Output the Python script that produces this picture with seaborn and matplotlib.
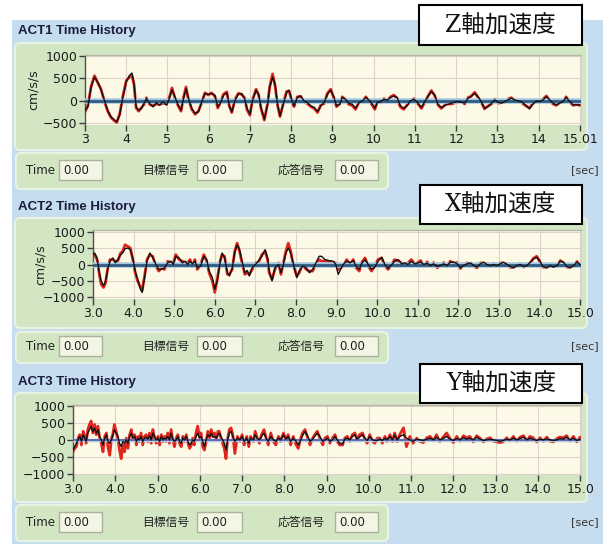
import numpy as np
import pandas as pd
import matplotlib
matplotlib.use("Agg")
import matplotlib.pyplot as plt
import seaborn as sns
from matplotlib.patches import FancyBboxPatch, Rectangle

# ---------------- data ----------------
panel_titles = ["ACT1 Time History", "ACT2 Time History", "ACT3 Time History"]
axis_names = ["Z軸加速度", "X軸加速度", "Y軸加速度"]
field_labels = ["Time", "目標信号", "応答信号"]
field_values = ["0.00", "0.00", "0.00"]
unit_label = "cm/s/s"
sec_label = "[sec]"

z_xticks = [3, 4, 5, 6, 7, 8, 9, 10, 11, 12, 13, 14, 15.01]
z_xticklabels = ["3", "4", "5", "6", "7", "8", "9", "10", "11", "12", "13", "14", "15.01"]
z_yticks = [1000, 500, 0, -500]
xy_xticks = [3.0, 4.0, 5.0, 6.0, 7.0, 8.0, 9.0, 10.0, 11.0, 12.0, 13.0, 14.0, 15.0]
xy_xticklabels = ["3.0", "4.0", "5.0", "6.0", "7.0", "8.0", "9.0", "10.0", "11.0", "12.0", "13.0", "14.0", "15.0"]
xy_yticks = [1000, 500, 0, -500, -1000]

zero_time = [3.0, 15.01]
zero_level = [0.0, 0.0]

# ACT1 (Z)
z_time = [3.00, 3.07, 3.15, 3.23, 3.31, 3.39, 3.47, 3.55, 3.63, 3.72, 3.77, 3.84, 3.92, 4.00, 4.08, 4.14, 4.19, 4.24, 4.30, 4.37,
          4.43, 4.49, 4.57, 4.65, 4.73, 4.81, 4.89, 4.98, 5.06, 5.11, 5.18, 5.26, 5.33, 5.38, 5.45, 5.50, 5.59, 5.67, 5.75, 5.83,
          5.91, 5.99, 6.07, 6.15, 6.22, 6.28, 6.36, 6.44, 6.50, 6.56, 6.64, 6.72, 6.80, 6.87, 6.93,
          7.00, 7.06, 7.15, 7.21, 7.27, 7.35, 7.43, 7.48, 7.55, 7.61, 7.67, 7.73, 7.81, 7.89, 7.95, 8.02, 8.07, 8.15, 8.23, 8.31,
          8.39, 8.48, 8.56, 8.64, 8.72, 8.80, 8.88, 8.96, 9.04, 9.10, 9.18, 9.24, 9.32, 9.40, 9.48, 9.56, 9.65, 9.73, 9.81, 9.89,
          9.97, 10.03, 10.09, 10.17, 10.25, 10.33, 10.41, 10.49, 10.57, 10.65, 10.73, 10.81, 10.89, 10.98,
          11.08, 11.16, 11.24, 11.32, 11.40, 11.48, 11.56, 11.64, 11.76, 11.89, 12.01, 12.13, 12.21, 12.29, 12.37, 12.45, 12.53,
          12.61, 12.69, 12.78, 12.86, 12.94, 13.02, 13.10, 13.18, 13.26, 13.34, 13.42, 13.50, 13.58, 13.66, 13.78, 13.86, 13.95,
          14.03, 14.11, 14.19, 14.27, 14.35, 14.43, 14.51, 14.59, 14.67, 14.76, 14.84, 14.92, 15.00]
z_response = [-207, -133, 310, 530, 420, 237, 15, -207, -355, -430, -466, -318, 90, 420, 570, 620, 385, -133, -207, -170,
              -60, 52, -60, -133, -44, -96, -22, -96, 90, 250, 90, -96, -207, 15, 272, 90, -170, -280, -245, -22,
              163, 148, 163, 126, -133, -60, 126, 178, -96, -245, 15, 148, 163, 52, -170,
              -296, 0, 237, 148, -148, -407, -74, 296, 533, 370, -74, -333, -74, 185, 237, 0, -111, 74, 111, 0,
              -37, -111, -148, -237, -111, -37, 148, 237, 74, -111, -74, 74, 37, -59, -74, -163, -37, 0, 74, 15,
              -74, -163, -37, -15, 37, 15, 74, 111, 74, -111, -163, -111, 0, 37,
              -52, -148, -15, 96, 207, 133, -74, -148, -89, -52, -15, -30, -52, 59, 96, 170, 96,
              -15, -163, -126, -52, 22, -30, -52, -15, 22, 59, 22, 0, -15, -74, -178, -74, 0,
              -15, 22, 96, 22, -52, -89, -52, -15, 74, -15, -89, -89, -89]
z_target = [-250, -100, 330, 560, 400, 260, -10, -230, -370, -450, -480, -300, 110, 450, 530, 560, 360, -160, -230, -150,
            -80, 70, -80, -110, -70, -80, -50, -70, 120, 290, 70, -110, -230, 40, 310, 60, -190, -300, -230, -40,
            180, 130, 180, 100, -160, -40, 150, 200, -120, -260, 40, 170, 140, 70, -200,
            -320, 20, 260, 130, -170, -430, -50, 320, 600, 340, -100, -350, -50, 210, 220, -20, -130, 90, 100, -20,
            -60, -130, -170, -260, -90, -60, 170, 260, 50, -130, -60, 90, 20, -80, -100, -190, -20, -20, 90, 0,
            -100, -190, -20, -40, 50, 0, 90, 130, 60, -140, -190, -90, -20, 50,
            -70, -170, -30, 110, 230, 120, -90, -170, -70, -70, -30, -10, -70, 70, 110, 190, 80,
            -30, -180, -110, -70, 40, -50, -40, -30, 40, 70, 10, -20, -30, -90, -160, -60, -20,
            0, 40, 110, 10, -70, -100, -40, -30, 90, -30, -100, -80, -100]

# ACT2 (X)
x_time = [3.00, 3.04, 3.10, 3.15, 3.20, 3.26, 3.31, 3.37, 3.42, 3.49, 3.55, 3.61, 3.68, 3.73, 3.79, 3.86, 3.92, 3.98, 4.04, 4.10,
          4.17, 4.21, 4.27, 4.33, 4.40, 4.47, 4.55, 4.62, 4.69, 4.76, 4.84, 4.92, 4.98, 5.04, 5.12, 5.20, 5.27, 5.33, 5.39, 5.45,
          5.51, 5.57, 5.65, 5.73, 5.80, 5.86, 5.94, 6.00, 6.06, 6.13, 6.18, 6.24, 6.31, 6.36, 6.43, 6.49, 6.55, 6.61, 6.67, 6.74,
          6.80, 6.85, 6.92,
          7.00, 7.07, 7.16, 7.24, 7.30, 7.34, 7.41, 7.48, 7.57, 7.63, 7.69, 7.75, 7.81, 7.87, 7.93, 8.02, 8.08, 8.16, 8.25, 8.33,
          8.41, 8.49, 8.57, 8.63, 8.71, 8.80, 8.92, 8.98, 9.04, 9.10, 9.16, 9.25, 9.33, 9.41, 9.48, 9.56, 9.61, 9.70, 9.78, 9.86,
          9.94, 10.02, 10.11, 10.19, 10.27, 10.35, 10.43, 10.52, 10.60, 10.68, 10.76, 10.84, 10.93,
          11.07, 11.15, 11.23, 11.31, 11.39, 11.48, 11.56, 11.64, 11.72, 11.80, 11.89, 11.97, 12.05, 12.13, 12.21, 12.30, 12.38,
          12.46, 12.54, 12.62, 12.70, 12.79, 12.87, 12.95, 13.03, 13.11, 13.20, 13.28, 13.36, 13.44, 13.52, 13.61, 13.69, 13.77,
          13.85, 13.93, 14.00, 14.08, 14.18, 14.26, 14.34, 14.43, 14.51, 14.59, 14.67, 14.75, 14.84, 14.92, 15.00]
x_response = [300, 350, 200, -200, -500, -650, -500, -100, 100, 200, 50, 150, 300, 350, 480, 500, 450, 200, -200, -450,
              -750, -850, -400, 100, 350, 220, 0, -150, -150, -100, 50, 100, 0, 250, 200, 50, 100, 0, 100, 20,
              100, -100, -50, 250, 150, -200, -400, -750, -500, 50, 350, 200, -250, -350, -100, 350, 600, 450, 100, -250,
              -180, -350, -100,
              0, 100, 250, 450, 200, -200, -500, -100, 0, -250, 0, 350, 500, 350, 50, -400, -200, -50, -100, -250,
              -150, 50, 250, 250, 150, 120, 100, 0, -300, -150, 0, 100, 50, 120, -50, -150, 20, 150, 0, -150,
              -80, 100, 220, 0, -120, -20, 100, 150, 20, 50, 0, 100, 20,
              70, 0, 40, -30, 20, -60, -30, 20, -30, 70, 70, 20, -100, -30, 20, 50, -30,
              -80, 20, 70, 0, -30, 0, -30, 20, 70, 0, -60, -100, -30, 0, -60, -30, 70,
              170, 220, 120, -60, -100, -30, -80, -30, 100, 70, -60, -100, -30, 70, 0]
x_target = [250, 300, 150, -250, -600, -700, -550, -50, 150, 150, 100, 100, 350, 400, 600, 550, 500, 150, -250, -500,
            -700, -800, -350, 150, 300, 250, -50, -200, -100, -150, 100, 50, 50, 300, 150, 100, 50, 50, 150, -50,
            150, -150, 0, 300, 100, -250, -500, -850, -450, 100, 300, 250, -300, -300, -150, 400, 650, 400, 50, -300,
            -250, -300, -150,
            50, 50, 300, 400, 150, -250, -450, -150, 50, -300, 50, 400, 650, 400, 0, -350, -250, 0, -150, -200,
            -200, 0, 150, 100, 100, 100, 50, 50, -150, -100, -50, 150, 0, 150, -100, -200, 50, 200, -50, -200,
            -50, 150, 200, -50, -150, 0, 150, 100, 50, 0, 50, 150, 0,
            120, -50, 80, -60, 60, -100, -10, 60, -60, 100, 40, 60, -120, -10, 50, 20, -60,
            -100, 50, 40, 30, -60, 30, -50, 50, 40, 20, -90, -80, -50, 30, -80, 0, 50,
            190, 250, 100, -80, -80, -50, -60, -50, 120, 50, -80, -80, -50, 90, -20]

# ACT3 (Y)
y_time = [3.00, 3.04, 3.08, 3.12, 3.16, 3.20, 3.24, 3.28, 3.31, 3.35, 3.39, 3.43, 3.47, 3.51, 3.55, 3.59, 3.63, 3.67, 3.71, 3.75,
          3.79, 3.83, 3.87, 3.91, 3.94, 3.98, 4.02, 4.06, 4.10, 4.14, 4.18, 4.22, 4.26, 4.30, 4.34, 4.38, 4.42, 4.46, 4.50, 4.54,
          4.57, 4.61, 4.65, 4.69, 4.73, 4.77, 4.81, 4.85, 4.89, 4.93, 4.97, 5.01, 5.05, 5.09, 5.13, 5.17, 5.20, 5.24, 5.28, 5.32,
          5.36, 5.40, 5.44, 5.48, 5.52, 5.56, 5.60, 5.64, 5.68, 5.72, 5.76, 5.80, 5.83, 5.87, 5.91, 5.95, 5.99, 6.03, 6.07, 6.11,
          6.15, 6.19, 6.23, 6.27, 6.31, 6.35, 6.39, 6.43, 6.46, 6.50, 6.54, 6.58, 6.62, 6.66, 6.70, 6.74,
          6.78, 6.83, 6.89, 6.95, 7.00, 7.05, 7.11, 7.16, 7.20, 7.27, 7.31, 7.36, 7.41, 7.46, 7.52, 7.57, 7.62, 7.68, 7.74, 7.80,
          7.86, 7.91, 7.98, 8.04, 8.09, 8.15, 8.21, 8.28, 8.33, 8.39, 8.43, 8.49, 8.54, 8.61, 8.67, 8.72, 8.78, 8.84, 8.91, 8.96,
          9.02, 9.08, 9.14, 9.20, 9.25, 9.31, 9.38, 9.43, 9.49, 9.55, 9.61, 9.67, 9.72, 9.78, 9.85, 9.91, 9.96, 10.02, 10.09, 10.14,
          10.20, 10.26, 10.32, 10.38, 10.43, 10.50, 10.56, 10.61, 10.67, 10.73,
          10.82, 10.89, 10.97, 11.05, 11.13, 11.21, 11.29, 11.37, 11.45, 11.53, 11.60, 11.68, 11.76, 11.84, 11.92, 12.00, 12.08,
          12.16, 12.24, 12.31, 12.39, 12.47, 12.55, 12.63, 12.71, 12.79, 12.87, 12.95, 13.03, 13.10, 13.18, 13.26, 13.34, 13.42,
          13.50, 13.58, 13.66, 13.74, 13.81, 13.89, 13.97, 14.05, 14.13, 14.21, 14.29, 14.37, 14.45, 14.52, 14.60, 14.68, 14.76,
          14.84, 14.92, 15.00]
y_response = [-294, -196, -98, 0, 98, -49, 147, 49, -49, 196, 294, 392, 245, 343, 196, 294, 98, 0, -147, 49,
              147, -49, -98, 0, 98, 294, 196, 98, -98, -196, -49, -98, 0, -98, 98, 196, 49, 98, -49, 49,
              0, 98, -49, 49, 78, 20, 118, 0, 196, 98, 0, 49, -49, 98, 0, 49, 20, 98, 0, 196,
              20, -49, 0, 98, -49, -98, 49, 0, 98, -49, -147, -98, 0, -49, 98, 196, 49, 98, -49, -196,
              0, 147, 98, 196, 78, 98, 49, 147, 196, 98, 0, -98, -294, 0, 196, 245,
              98, -49, 49, 0, 98, -49, 49, -98, 49, 0, 147, 49, 0, 98, 196, 49, -49, 98, 0, -49,
              49, 0, 147, 20, 98, -49, 49, -49, -147, 0, 118, 245, 147, -49, 20, 98, 196, 98, -49, 0,
              49, -49, 0, 98, 0, -98, -118, 20, 49, 0, 98, 147, 20, 78, 147, 49, -20, 98, 0, -20,
              -20, 20, -20, 49, 0, 98, 0, 147, 0, 98,
              147, 49, 0, -49, 20, 0, -20, 20, 49, 0, 78, 0, 39, 98, 20, -20, 39,
              0, 69, 20, 49, 0, 78, 20, -20, 0, 20, 0, -20, -49, -20, 20, 0, 49,
              0, 39, 78, 0, 49, 20, -20, 20, 0, 29, 0, -20, 0, 39, 20, 78, 0,
              49, -20, 20]
y_target = [-350, -250, -200, 50, 150, -150, 250, 100, -100, 300, 450, 550, 200, 450, 150, 400, 50, -100, -350, 100,
            200, -250, -450, 50, 150, 450, 250, 50, -300, -550, -150, -350, 50, -250, 150, 300, 0, 150, -150, 100,
            -50, 200, -150, 100, 150, -50, 200, -100, 300, 50, -100, 100, -150, 150, -50, 100, -50, 200, -100, 300,
            0, -200, 50, 150, -100, -200, 100, -50, 150, -100, -250, -150, 50, -150, 200, 400, 100, 200, -200, -300,
            -50, 250, 50, 300, 100, 200, 0, 250, 250, 50, -100, -250, -550, 50, 300, 350,
            150, -400, 100, -50, 150, -150, 100, -200, 100, -50, 250, 50, -100, 150, 300, 50, -150, 200, -50, -150,
            100, -50, 200, 0, 150, -150, 100, -150, -250, 50, 200, 300, 100, -150, 50, 150, 250, 50, -150, 50,
            100, -100, 50, 150, -50, -150, -150, 50, 100, -50, 150, 200, 0, 150, 200, 0, -100, 150, -50, -100,
            50, 50, -100, 100, -50, 150, -50, 200, -50, 150,
            350, -200, 100, -100, 50, -50, -80, 60, 100, -30, 150, -50, 80, 200, 40, -80, 100,
            -40, 120, 60, 100, -60, 120, 50, -60, 30, 60, -40, -60, -80, -60, 60, -30, 100,
            -40, 80, 120, -30, 100, 60, -60, 60, -40, 80, -40, -60, 40, 80, 60, 120, -40,
            100, -60, 80]

for a, b, c in [(z_time, z_response, z_target), (x_time, x_response, x_target), (y_time, y_response, y_target)]:
    assert len(a) == len(b) == len(c), (len(a), len(b), len(c))

# ---------------- style ----------------
sns.set_theme(style="white")
plt.rcParams['font.family'] = ['DejaVu Sans', 'Noto Sans CJK JP']

W, H = 605, 544
BLUE_BG = '#c6ddf0'
GREEN = '#d3e6c4'
GREEN_EDGE = '#e9f3e1'
YELLOW = '#fcfae7'
RED = '#e0261c'
GRID = '#dcd3cc'

fig = plt.figure(figsize=(W / 100, H / 100), dpi=100)
fig.patch.set_facecolor('white')
bg = fig.add_axes([0, 0, 1, 1])
bg.set_xlim(0, W)
bg.set_ylim(H, 0)
bg.axis('off')

bg.add_patch(Rectangle((12, 20), 591, 524, facecolor=BLUE_BG, edgecolor='none'))


def rbox(x0, y0, x1, y1, fc, ec, lw=1.2, r=4, z=1):
    bg.add_patch(FancyBboxPatch((x0, y0), x1 - x0, y1 - y0,
                                boxstyle=f"round,pad=0,rounding_size={r}",
                                facecolor=fc, edgecolor=ec, lw=lw, zorder=z))


panels = [
    dict(title_y=31, g0=43, g1=150, b0=153, b1=189, row=170,
         ax=(85, 55, 581, 125), ylim=(-538, 1022), unit_x=33, box=(419, 5, 582, 45)),
    dict(title_y=207, g0=218, g1=328, b0=332, b1=363, row=346,
         ax=(93, 230, 581, 299), ylim=(-1050, 1050), unit_x=40, box=(420, 185, 582, 224)),
    dict(title_y=382, g0=393, g1=502, b0=505, b1=541, row=522,
         ax=(73, 405, 581, 475), ylim=(-1030, 1020), unit_x=None, box=(420, 364, 582, 403)),
]

series = [(z_time, z_response, z_target), (x_time, x_response, x_target), (y_time, y_response, y_target)]

for i, p in enumerate(panels):
    # title
    bg.text(18, p['title_y'], panel_titles[i], fontsize=9.5, fontweight='bold',
            family='Liberation Sans', color='#1b1b3a', va='center', ha='left', zorder=3)
    # green panel
    rbox(15, p['g0'], 587, p['g1'], GREEN, GREEN_EDGE, lw=1.5, r=5)
    # time bar
    rbox(16, p['b0'], 388, p['b1'], GREEN, GREEN_EDGE, lw=1.5, r=5)
    row = p['row']
    bg.text(26, row, field_labels[0], fontsize=8.5, va='center', ha='left', color='#202020', zorder=3)
    bg.text(142, row, field_labels[1], fontsize=8.5, va='center', ha='left', color='#202020', zorder=3)
    bg.text(278, row, field_labels[2], fontsize=8.5, va='center', ha='left', color='#202020', zorder=3)
    for fx0, fx1, val in [(59, 102, field_values[0]), (197, 242, field_values[1]), (335, 378, field_values[2])]:
        bg.add_patch(Rectangle((fx0, row - 10), fx1 - fx0, 20, facecolor='#f3f6e4',
                               edgecolor='#a9b39c', lw=1.0, zorder=2))
        bg.text(fx0 + 4, row + 1, val, fontsize=8.5, va='center', ha='left', color='#202020', zorder=3)
    bg.text(599, row, sec_label, fontsize=8, va='center', ha='right', color='#333333', zorder=3)
    # unit label
    if p['unit_x'] is not None:
        l, t, r, b = p['ax']
        bg.text(p['unit_x'], (t + b) / 2, unit_label, fontsize=9, rotation=90,
                va='center', ha='center', color='#202020', zorder=3)
    # axis name box
    bx0, by0, bx1, by1 = p['box']
    bg.add_patch(Rectangle((bx0, by0), bx1 - bx0, by1 - by0, facecolor='white',
                           edgecolor='black', lw=1.5, zorder=5))
    bg.text((bx0 + bx1) / 2, (by0 + by1) / 2 + 1, axis_names[i], fontsize=17,
            family=['DejaVu Serif', 'Noto Sans CJK JP'], va='center', ha='center',
            color='#111111', zorder=6)

    # plot axes
    l, t, r, b = p['ax']
    ax = fig.add_axes([l / W, 1 - b / H, (r - l) / W, (b - t) / H])
    ax.set_facecolor(YELLOW)
    tt, resp, targ = series[i]
    df = pd.DataFrame({'t': tt, 'response': resp, 'target': targ})
    zdf = pd.DataFrame({'t': zero_time, 'v': zero_level})
    sns.lineplot(data=df, x='t', y='target', ax=ax, color=RED, lw=2.0,
                 sort=False, estimator=None, zorder=2)
    if i < 2:
        sns.lineplot(data=zdf, x='t', y='v', ax=ax, color='#a7c7df', lw=4.0, estimator=None, zorder=3)
        sns.lineplot(data=zdf, x='t', y='v', ax=ax, color='#2f5b83', lw=2.0, estimator=None, zorder=3)
    else:
        sns.lineplot(data=zdf, x='t', y='v', ax=ax, color='#b7cde3', lw=2.5, estimator=None, zorder=3)
        sns.lineplot(data=zdf, x='t', y='v', ax=ax, color='#4b4fa6', lw=1.1, estimator=None, zorder=3)
    sns.lineplot(data=df, x='t', y='response', ax=ax, color='#111111', lw=1.0,
                 sort=False, estimator=None, zorder=4)

    if i == 0:
        ax.set_xlim(3.0, 15.03)
        ax.set_xticks(z_xticks)
        ax.set_xticklabels(z_xticklabels)
        ax.set_yticks(z_yticks)
    else:
        ax.set_xlim(3.0, 15.02)
        ax.set_xticks(xy_xticks)
        ax.set_xticklabels(xy_xticklabels)
        ax.set_yticks(xy_yticks)
    ax.set_ylim(*p['ylim'])
    ax.set_xlabel('')
    ax.set_ylabel('')
    ax.grid(True, color=GRID, lw=0.8)
    ax.set_axisbelow(True)
    ax.tick_params(axis='both', which='both', direction='out', length=4, width=1,
                   color='#3c3c3c', labelsize=9, pad=1.5, labelcolor='#1a1a1a',
                   left=True, bottom=True)
    ax.spines['bottom'].set_visible(False)
    ax.spines['left'].set_color('#505050')
    ax.spines['left'].set_linewidth(1.0)
    ax.spines['top'].set_color('#b8b6a6')
    ax.spines['top'].set_linewidth(1.0)
    ax.spines['right'].set_color('#d6d6c6')
    ax.spines['right'].set_linewidth(0.8)

fig.savefig('out.png', dpi=100, facecolor=fig.get_facecolor())
